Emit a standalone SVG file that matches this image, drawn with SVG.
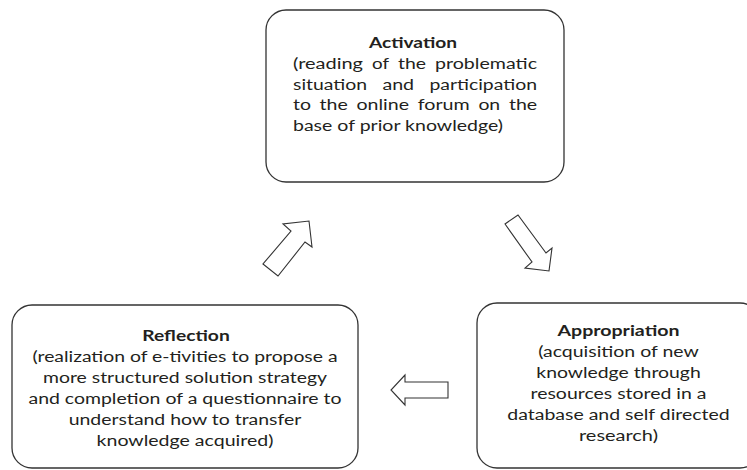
<svg xmlns="http://www.w3.org/2000/svg" width="747" height="470" viewBox="0 0 747 470">
<style>
.box{fill:#fff;stroke:#333;stroke-width:1.3}
.arr{fill:#fff;stroke:#333;stroke-width:1.1;stroke-linejoin:miter}
.t{font-family:Lato,"Liberation Sans",sans-serif;font-size:15.5px;fill:#231f20}
.b{font-weight:bold}
.c{text-anchor:middle}
</style>
<rect x="0" y="0" width="747" height="470" fill="#fff"/>
<g id="connectors">
<polygon class="arr" points="263,264 278,276 305,242 312,247 309,221 283,224 291,231"/>
<polygon class="arr" points="505,224 518,215 546,253 552,248 549,271 525,268 532,262"/>
<polygon class="arr" points="448,382 405,382 405,375 391,390 405,405 405,398 448,398"/>
</g>
<g id="activation">
<rect class="box" x="266" y="10" width="298" height="172" rx="20"/>
<text class="t b c" x="413" y="48" textLength="88" lengthAdjust="spacingAndGlyphs">Activation</text>
<text class="t" x="293" y="69" textLength="70" lengthAdjust="spacingAndGlyphs">(reading</text>
<text class="t" x="372" y="69" textLength="17" lengthAdjust="spacingAndGlyphs">of</text>
<text class="t" x="398" y="69" textLength="28" lengthAdjust="spacingAndGlyphs">the</text>
<text class="t" x="435" y="69" textLength="102" lengthAdjust="spacingAndGlyphs">problematic</text>
<text class="t" x="293" y="89.5" textLength="74" lengthAdjust="spacingAndGlyphs">situation</text>
<text class="t" x="382.4" y="89.5" textLength="31.7" lengthAdjust="spacingAndGlyphs">and</text>
<text class="t" x="429.4" y="89.5" textLength="107.6" lengthAdjust="spacingAndGlyphs">participation</text>
<text class="t" x="293" y="110" textLength="17.9" lengthAdjust="spacingAndGlyphs">to</text>
<text class="t" x="319.6" y="110" textLength="28.2" lengthAdjust="spacingAndGlyphs">the</text>
<text class="t" x="356.5" y="110" textLength="52.5" lengthAdjust="spacingAndGlyphs">online</text>
<text class="t" x="417.7" y="110" textLength="52" lengthAdjust="spacingAndGlyphs">forum</text>
<text class="t" x="478.4" y="110" textLength="21.8" lengthAdjust="spacingAndGlyphs">on</text>
<text class="t" x="508.9" y="110" textLength="28.2" lengthAdjust="spacingAndGlyphs">the</text>
<text class="t" x="293" y="130.5" textLength="210" lengthAdjust="spacingAndGlyphs">base of prior knowledge)</text>
</g>
<g id="reflection">
<rect class="box" x="12" y="305" width="346" height="163" rx="20"/>
<text class="t b c" x="186" y="341" textLength="87.5" lengthAdjust="spacingAndGlyphs">Reflection</text>
<text class="t c" x="185" y="362" textLength="305" lengthAdjust="spacingAndGlyphs">(realization of e-tivities to propose a</text>
<text class="t c" x="185" y="383" textLength="284" lengthAdjust="spacingAndGlyphs">more structured solution strategy</text>
<text class="t c" x="185" y="404" textLength="313" lengthAdjust="spacingAndGlyphs">and completion of a questionnaire to</text>
<text class="t c" x="185" y="425" textLength="232.6" lengthAdjust="spacingAndGlyphs">understand how to transfer</text>
<text class="t c" x="185" y="446" textLength="176.8" lengthAdjust="spacingAndGlyphs">knowledge acquired)</text>
</g>
<g id="appropriation">
<rect class="box" x="477" y="303" width="283" height="165" rx="20"/>
<text class="t b c" x="618.5" y="336" textLength="122" lengthAdjust="spacingAndGlyphs">Appropriation</text>
<text class="t c" x="618.5" y="357" textLength="160.6" lengthAdjust="spacingAndGlyphs">(acquisition of new</text>
<text class="t c" x="618.5" y="378" textLength="164.4" lengthAdjust="spacingAndGlyphs">knowledge through</text>
<text class="t c" x="618.5" y="399" textLength="176" lengthAdjust="spacingAndGlyphs">resources stored in a</text>
<text class="t c" x="618.5" y="420" textLength="222.4" lengthAdjust="spacingAndGlyphs">database and self directed</text>
<text class="t c" x="618.5" y="441" textLength="79" lengthAdjust="spacingAndGlyphs">research)</text>
</g>
</svg>
